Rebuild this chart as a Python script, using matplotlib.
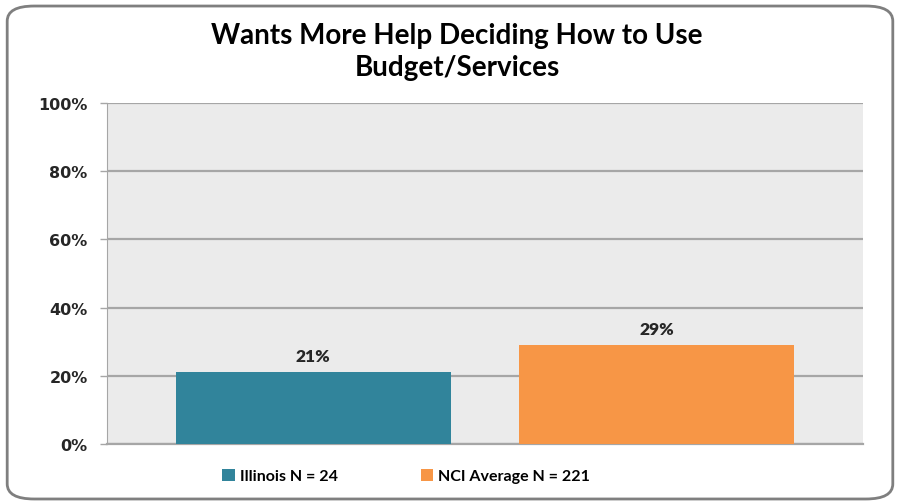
import matplotlib.pyplot as plt
from matplotlib.patches import FancyBboxPatch, Patch

# data
series = ['Illinois N = 24', 'NCI Average N = 221']
values = [21, 29]
colors = ['#31849B', '#F79646']
yticks = [0, 20, 40, 60, 80, 100]
title = 'Wants More Help Deciding How to Use\nBudget/Services'

fig = plt.figure(figsize=(9, 5.02), dpi=100)

# rounded chart frame
frame = FancyBboxPatch((0.008, 0.004), 0.984, 0.982,
                       boxstyle='round,pad=0,rounding_size=0.03',
                       transform=fig.transFigure, facecolor='white',
                       edgecolor='#7F7F7F', linewidth=2, zorder=-5)
fig.patches.append(frame)

ax = fig.add_axes([0.1189, 0.1135, 0.84, 0.6793])
ax.set_facecolor('#EBEBEB')

x = range(len(values))
bars = ax.bar(x, values, width=0.8, color=colors, zorder=3)
for xi, v in zip(x, values):
    ax.text(xi, v + 2.5, f'{v}%', ha='center', va='bottom',
            fontsize=12.5, fontweight='heavy', family='Lato', color='#262626')

ax.set_xlim(-0.6, 1.6)
ax.set_ylim(0, 100)
ax.set_yticks(yticks)
ax.set_yticklabels([f'{t}%' for t in yticks], fontsize=11.5,
                   fontweight='bold', family='DejaVu Sans', color='#262626')
ax.set_xticks([])
ax.yaxis.grid(True, color='#A6A6A6', linewidth=1.6, zorder=1)
ax.set_axisbelow(True)
ax.tick_params(axis='y', length=5, width=1, color='#A6A6A6', pad=9)
for s in ['top', 'right']:
    ax.spines[s].set_visible(False)
ax.spines['left'].set_color('#A6A6A6')
ax.spines['bottom'].set_color('#A6A6A6')
ax.spines['bottom'].set_linewidth(1.6)

fig.text(0.508, 0.897, title, ha='center', va='center', fontsize=20,
         fontweight='bold', family='Lato', linespacing=1.3)

handles = [Patch(facecolor=c, edgecolor='none') for c in colors]
fig.legend(handles, series, loc='center', bbox_to_anchor=(406 / 900, 1 - 477 / 502),
           ncol=2, frameon=False, handlelength=0.8, handleheight=0.8,
           handletextpad=0.3, columnspacing=5.2,
           prop={'family': 'Lato', 'weight': 'bold', 'size': 11.5})

fig.savefig('out.png', dpi=100)
